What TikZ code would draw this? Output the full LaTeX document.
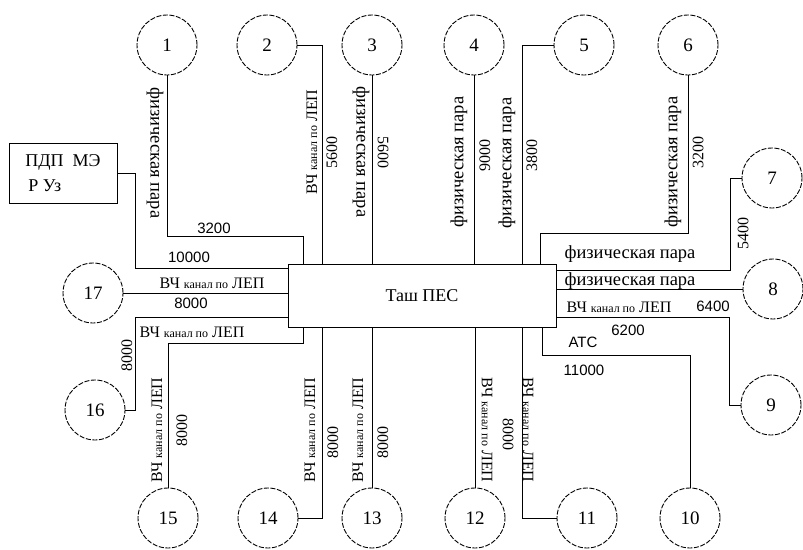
\documentclass[tikz,border=0pt]{standalone}
\usepackage{fontspec}
\setmainfont{Liberation Serif}
\newfontfamily\arialfont{Liberation Sans}
\newcommand{\vchlep}{ВЧ {\fontsize{12}{12}\selectfont канал по} ЛЕП}

\begin{document}
\begin{tikzpicture}[x=1pt,y=-1pt,
      every node/.style={font=\fontsize{16}{16}\selectfont},
      stn/.style={circle,draw,dash pattern=on 5pt off 1.6pt,line width=0.9pt,
        minimum size=60pt,inner sep=0pt,font=\fontsize{19}{19}\selectfont},
      lbl/.style={inner sep=0pt},
      vup/.style={lbl,rotate=90},
      vdn/.style={lbl,rotate=-90},
      pair/.style={font=\fontsize{18.5}{18.5}\selectfont},
      vch/.style={font=\fontsize{16}{16}\selectfont},
      sans/.style={lbl,font=\arialfont\fontsize{15}{15}\selectfont},
      link/.style={line width=0.8pt}]
      \useasboundingbox (0,0) rectangle (803,549);
      % stations round the centre
      \foreach \i/\x/\y in {1/167/45, 2/267/45, 3/372/45, 4/474/45, 5/584/45, 6/688/45,
          7/772/178, 8/773/289, 9/771/405, 10/690/518, 11/587/518, 12/475/518,
          13/372/518, 14/268/518, 15/168/518, 16/95/410, 17/93/293}
        \node[stn] (n_\i) at (\x,\y) {\i};
      \node[draw,line width=0.8pt,minimum width=268pt,minimum height=63pt,
        font=\fontsize{18}{18}\selectfont] (tash) at (422,295.5) {Таш ПЕС};
      \node[draw,line width=0.9pt,minimum width=108pt,minimum height=60pt,align=left,
        font=\fontsize{18}{25}\selectfont] (pdp) at (63,173) {ПДП~~МЭ\\\,Р Уз};
      % connectors
      \draw[link] (n_1) |- (303,236) -- (tash.north -| 303,0);
      \draw[link] (n_2) -| (tash.north -| 322,0);
      \draw[link] (n_3) -- (n_3 |- tash.north);
      \draw[link] (n_4) -- (n_4 |- tash.north);
      \draw[link] (n_5) -| (tash.north -| 522,0);
      \draw[link] (n_6) |- (540,233) -- (tash.north -| 540,0);
      \draw[link] (n_7) -| (730,270) -- (tash.east |- 0,270);
      \draw[link] (n_8) -- (n_8 -| tash.east);
      \draw[link] (n_9) -| (729,317) -- (tash.east |- 0,317);
      \draw[link] (n_10) |- (542,355) -- (tash.south -| 542,0);
      \draw[link] (n_11) -| (tash.south -| 522,0);
      \draw[link] (n_12) -- (n_12 |- tash.south);
      \draw[link] (n_13) -- (n_13 |- tash.south);
      \draw[link] (n_14) -| (tash.south -| 322,0);
      \draw[link] (n_15) |- (303,343) -- (tash.south -| 303,0);
      \draw[link] (n_16) -| (135,317) -- (tash.west |- 0,317);
      \draw[link] (n_17) -- (n_17 -| tash.west);
      \draw[link] (pdp) -| (135,268) -- (tash.west |- 0,268);
      % labels
      \node[vdn,pair] (l1a) at (155,153) {физическая пара};
      \node[sans] (l1b) at (214,228) {3200};
      \node[vup,vch] (l2a) at (312,142) {\vchlep};
      \node[vup] (l2b) at (332,152) {5600};
      \node[vdn,pair] (l3a) at (361,152) {физическая пара};
      \node[vdn] (l3b) at (383,152) {5600};
      \node[vup,pair] (l4a) at (459,162) {физическая пара};
      \node[vup] (l4b) at (485,155) {9000};
      \node[vup,pair] (l5a) at (507,163) {физическая пара};
      \node[vup] (l5b) at (532,155) {3800};
      \node[vup,pair] (l6a) at (673,162) {физическая пара};
      \node[vup] (l6b) at (698,152) {3200};
      \node[lbl,pair] (l7a) at (630,254) {физическая пара};
      \node[vup] (l7b) at (743,233) {5400};
      \node[lbl,pair] (l8a) at (630,281) {физическая пара};
      \node[lbl,vch] (l9a) at (619,307) {\vchlep};
      \node[sans] (l9b) at (713,306) {6400};
      \node[sans] (l10a) at (583,342) {АТС};
      \node[sans] (l10b) at (628,330) {6200};
      \node[sans] (l10c) at (584,370) {11000};
      \node[vdn,vch] (l11a) at (528,430) {\vchlep};
      \node[vdn] (l11b) at (508,434) {8000};
      \node[vdn,vch] (l12a) at (487,430) {\vchlep};
      \node[vup,vch] (l13a) at (358,430) {\vchlep};
      \node[vup] (l13b) at (383,442) {8000};
      \node[vup,vch] (l14a) at (310,430) {\vchlep};
      \node[vup] (l14b) at (333,442) {8000};
      \node[vup,vch] (l15a) at (157,430) {\vchlep};
      \node[vup] (l15b) at (182,430) {8000};
      \node[vup] (l16a) at (127,355) {8000};
      \node[lbl,vch] (l16b) at (192,332) {\vchlep};
      \node[lbl,vch] (l17a) at (212,283) {\vchlep};
      \node[sans] (l17b) at (191,303) {8000};
      \node[sans] (l0) at (189,257) {10000};
    \end{tikzpicture}
\end{document}
